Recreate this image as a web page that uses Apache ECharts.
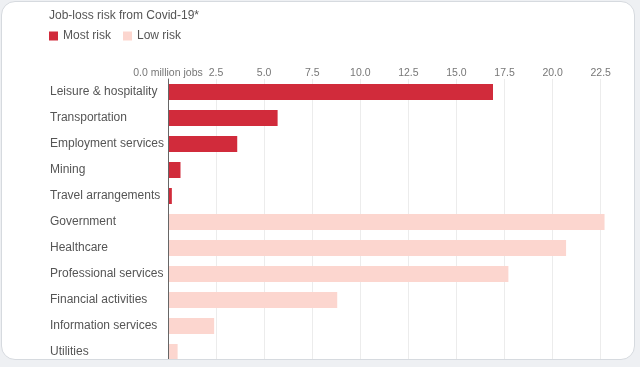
<!DOCTYPE html>
<html>
<head>
<meta charset="utf-8">
<script src="https://cdn.jsdelivr.net/npm/echarts@6/dist/echarts.min.js"></script>
<style>
html,body{margin:0;padding:0;width:640px;height:367px;background:#eef0f3;overflow:hidden;}
#card{position:absolute;left:1px;top:1px;width:632px;height:357px;border:1px solid #d6dadf;border-radius:14px;overflow:hidden;background:#fff;}
#chart{width:632px;height:400px;}
</style>
</head>
<body>
<div id="card"><div id="chart"></div></div>
<script>
var categories = ['Leisure & hospitality','Transportation','Employment services','Mining','Travel arrangements','Government','Healthcare','Professional services','Financial activities','Information services','Utilities'];
var mostRisk = [16.9, 5.7, 3.6, 0.65, 0.2, null, null, null, null, null, null];
var lowRisk = [null, null, null, null, null, 22.7, 20.7, 17.7, 8.8, 2.4, 0.5];
var seriesNames = ['Most risk','Low risk'];
var titleText = 'Job-loss risk from Covid-19*';
var axisUnitLabel = '0.0 million jobs';

var chart = echarts.init(document.getElementById('chart'));
chart.setOption({
  animation:false,
  title:{text:titleText,left:42,top:3,textStyle:{fontFamily:'Liberation Sans',fontSize:12,fontWeight:'normal',color:'#555'}},
  legend:{left:42,top:23,itemWidth:9,itemHeight:9,itemGap:12,icon:'rect',
    textStyle:{fontFamily:'Liberation Sans',fontSize:12,color:'#555'},data:seriesNames},
  grid:{left:166,top:77,width:450,height:286,containLabel:false},
  xAxis:{type:'value',position:'top',min:0,max:23.4,interval:2.5,
    axisLine:{show:false},axisTick:{show:false},
    splitLine:{show:true,showMaxLine:false,lineStyle:{color:'#ececec',width:1}},
    axisLabel:{margin:0,fontFamily:'Liberation Sans',fontSize:10.5,color:'#777',showMaxLabel:false,
      formatter:function(v){ if(v===0) return axisUnitLabel; if(Math.abs(v/2.5-Math.round(v/2.5))<1e-6) return v.toFixed(1); return ''; }}},
  yAxis:{type:'category',data:categories,inverse:true,z:5,
    axisLine:{show:true,lineStyle:{color:'#666',width:1}},axisTick:{show:false},
    axisLabel:{align:'left',margin:118,fontFamily:'Liberation Sans',fontSize:12,color:'#555'}},
  series:[
    {name:seriesNames[0],type:'bar',stack:'a',data:mostRisk,barWidth:16,itemStyle:{color:'#d12b3b'}},
    {name:seriesNames[1],type:'bar',stack:'a',data:lowRisk,barWidth:16,itemStyle:{color:'#fcd6cf'}}
  ]
});
</script>
</body>
</html>
